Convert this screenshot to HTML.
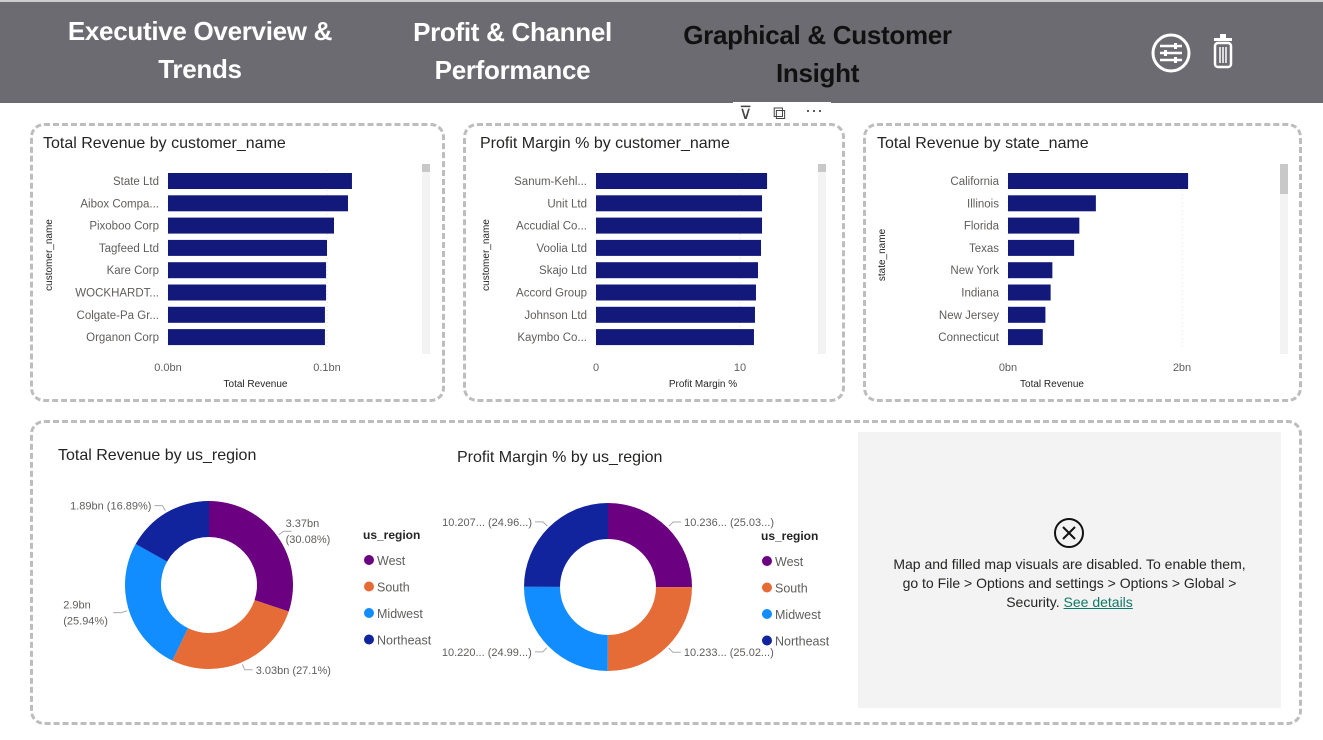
<!DOCTYPE html>
<html><head><meta charset="utf-8">
<style>
body{margin:0;width:1323px;height:740px;overflow:hidden;background:#fff;font-family:"Liberation Sans",sans-serif;position:relative}
.hdr{position:absolute;left:0;top:0;width:1323px;height:103px;background:#6c6b71;border-top:2px solid #ccc;box-sizing:border-box}
.nav{position:absolute;color:#fff;font-weight:bold;font-size:26px;text-align:center;line-height:38px;letter-spacing:-0.3px}
.card{position:absolute;border:3px dashed #bdbdbd;border-radius:14px;box-sizing:border-box}
svg text{font-family:"Liberation Sans",sans-serif}
</style></head><body>
<div class="hdr"></div>
<div class="nav" style="left:50px;top:12px;width:300px">Executive Overview &amp;<br>Trends</div>
<div class="nav" style="left:390px;top:13px;width:245px">Profit &amp; Channel<br>Performance</div>
<div class="nav" style="left:665px;top:16px;width:305px;color:#111">Graphical &amp; Customer<br>Insight</div>
<svg style="position:absolute;left:1150px;top:32px" width="95" height="42">
<g><circle cx="21" cy="21" r="18" fill="none" stroke="#fff" stroke-width="3"/><path d="M10 14h22M10 21h22M10 28h22" stroke="#fff" stroke-width="2.5"/><rect x="24" y="11" width="3" height="6" fill="#fff"/><rect x="14" y="18" width="3" height="6" fill="#fff"/><rect x="24" y="25" width="3" height="6" fill="#fff"/></g>
<g><rect x="64" y="6" width="18" height="3" fill="#fff"/><rect x="70" y="2" width="6" height="4" fill="#fff"/><rect x="65" y="11" width="16" height="24" rx="3" fill="none" stroke="#fff" stroke-width="2.5"/><path d="M70 15v16M73 15v16M76 15v16" stroke="#fff" stroke-width="1.5"/></g>
</svg>
<div style="position:absolute;left:733px;top:102px;width:98px;height:26px;background:#fff;font-size:18px;color:#444"><span style="position:absolute;left:6px;top:1px">⊽</span><span style="position:absolute;left:40px;top:1px">⧉</span><span style="position:absolute;left:72px;top:-2px">···</span></div>

<div class="card" style="left:30px;top:123px;width:415px;height:279px"></div>
<div class="card" style="left:463px;top:123px;width:382px;height:279px"></div>
<div class="card" style="left:863px;top:123px;width:439px;height:279px"></div>
<div class="card" style="left:30px;top:420px;width:1272px;height:305px"></div>

<svg id="bars" style="position:absolute;left:0;top:0" width="1323" height="740"></svg>

<div style="position:absolute;left:858px;top:432px;width:423px;height:276px;background:#f3f3f3;font-size:14px;color:#252423;text-align:center">
<svg style="position:absolute;left:195px;top:85px" width="32" height="32"><circle cx="16" cy="16" r="14" fill="none" stroke="#111" stroke-width="2"/><path d="M10 10l12 12M22 10l-12 12" stroke="#111" stroke-width="2"/></svg>
<div style="position:absolute;left:28px;top:123px;width:367px;line-height:19px">Map and filled map visuals are disabled. To enable them, go to File &gt; Options and settings &gt; Options &gt; Global &gt; Security. <span style="color:#117865;text-decoration:underline">See details</span></div>
</div>

<script>
const c1Cats=["State Ltd","Aibox Compa...","Pixoboo Corp","Tagfeed Ltd","Kare Corp","WOCKHARDT...","Colgate-Pa Gr...","Organon Corp"];
const c1Vals=[0.1157,0.1132,0.1044,0.1000,0.0994,0.0994,0.0987,0.0987];
const c1Ticks=[0,0.1];const c1TickLabels=["0.0bn","0.1bn"];
const c2Cats=["Sanum-Kehl...","Unit Ltd","Accudial Co...","Voolia Ltd","Skajo Ltd","Accord Group","Johnson Ltd","Kaymbo Co..."];
const c2Vals=[11.88,11.53,11.53,11.46,11.25,11.11,11.04,10.97];
const c2Ticks=[0,10];const c2TickLabels=["0","10"];
const c3Cats=["California","Illinois","Florida","Texas","New York","Indiana","New Jersey","Connecticut"];
const c3Vals=[2.07,1.01,0.82,0.76,0.51,0.49,0.43,0.40];
const c3Ticks=[0,2];const c3TickLabels=["0bn","2bn"];
const regions=["West","South","Midwest","Northeast"];
const regionColors=["#6b0080","#e66c37","#118dff","#12239e"];
const revVals=[3.37,3.03,2.9,1.89];
const revLabels=[["3.37bn","(30.08%)"],["3.03bn (27.1%)"],["2.9bn","(25.94%)"],["1.89bn (16.89%)"]];
const marVals=[10.236,10.233,10.220,10.207];
const marLabels=[["10.236... (25.03...)"],["10.233... (25.02...)"],["10.220... (24.99...)"],["10.207... (24.96...)"]];

const NS="http://www.w3.org/2000/svg";const svg=document.getElementById('bars');
function mk(tag,attrs,parent){const e=document.createElementNS(NS,tag);for(const k in attrs)e.setAttribute(k,attrs[k]);(parent||svg).appendChild(e);return e;}
function txt(x,y,s,size,fill,anchor,parent){const e=mk('text',{x:x,y:y,'font-size':size,fill:fill,'text-anchor':anchor||'start'},parent);e.textContent=s;return e;}

function barChart(o){
  const g=mk('g',{});
  
  
  const t=txt(o.tx,148,o.title,16,'#252423','start',g);
  
  
  const sx=v=>o.x0+(v-o.ticks[0])/(o.ticks[1]-o.ticks[0])*(o.x1-o.x0);
  o.ticks.forEach((tv,i)=>{
    mk('line',{x1:sx(tv),x2:sx(tv),y1:170,y2:350,stroke:'#ddd','stroke-dasharray':'1,3'},g);
    const l=txt(sx(tv),371,o.tickLabels[i],11,'#605e5c','middle',g);
    
    
  });
  o.cats.forEach((c,i)=>{
    const yc=181+i*22.3;
    const r=mk('rect',{x:o.x0,y:yc-8,width:sx(o.vals[i])-o.x0,height:16,fill:'#12197a'},g);
    
    
    const l=txt(o.x0-9,yc+4,c,11.5,'#605e5c','end',g);
    
    
  });
  const xt=txt((o.x0+o.x1)/2+o.xtOff,387,o.xTitle,10,'#252423','middle',g);
  
  
  const yt=txt(0,0,o.yTitle,10,'#252423','middle',g);
  yt.setAttribute('transform','translate('+o.yx+',255) rotate(-90)');
  
  
  const sb=mk('rect',{x:o.sbx,y:164,width:8,height:190,fill:'#f3f3f3'},g);
  
  
  mk('rect',{x:o.sbx,y:164,width:8,height:o.sbh,fill:'#c8c8c8'},g);
}
barChart({name:'revenue-by-customer-chart',title:'Total Revenue by customer_name',tx:43,cats:c1Cats,vals:c1Vals,ticks:c1Ticks,tickLabels:c1TickLabels,x0:168,x1:327,xTitle:'Total Revenue',xtOff:8,yTitle:'customer_name',yx:52,sbx:422,sbh:8});
barChart({name:'margin-by-customer-chart',title:'Profit Margin % by customer_name',tx:480,cats:c2Cats,vals:c2Vals,ticks:c2Ticks,tickLabels:c2TickLabels,x0:596,x1:740,xTitle:'Profit Margin %',xtOff:35,yTitle:'customer_name',yx:489,sbx:818,sbh:8});
barChart({name:'revenue-by-state-chart',title:'Total Revenue by state_name',tx:877,cats:c3Cats,vals:c3Vals,ticks:c3Ticks,tickLabels:c3TickLabels,x0:1008,x1:1182,xTitle:'Total Revenue',xtOff:-43,yTitle:'state_name',yx:885,sbx:1280,sbh:30});

function donut(o){
  const g=mk('g',{});
  
  
  const t=txt(o.tx,o.ty,o.title,16,'#252423','start',g);
  
  
  const tot=o.vals.reduce((a,b)=>a+b,0);let a0=0;const R=84,r=48;
  o.vals.forEach((v,i)=>{
    const a1=a0+v/tot*Math.PI*2;
    const p=(a,rad)=>[o.cx+rad*Math.sin(a),o.cy-rad*Math.cos(a)];
    const [x1,y1]=p(a0,R),[x2,y2]=p(a1,R),[x3,y3]=p(a1,r),[x4,y4]=p(a0,r);
    const lg=(a1-a0)>Math.PI?1:0;
    const s=mk('path',{d:`M${x1} ${y1}A${R} ${R} 0 ${lg} 1 ${x2} ${y2}L${x3} ${y3}A${r} ${r} 0 ${lg} 0 ${x4} ${y4}Z`,fill:regionColors[i]},g);
    
    
    const am=(a0+a1)/2;const [lx,ly]=p(am,R+8);const [ex,ey]=p(am,R+2);
    const right=Math.sin(am)>0;
    mk('polyline',{points:`${ex},${ey} ${lx},${ly} ${lx+(right?8:-8)},${ly}`,fill:'none',stroke:'#aaa'},g);
    const lines=o.labels[i];
    let lb;
    if(lines.length===1){
      lb=txt(lx+(right?11:-11),ly+4,lines[0],11,'#605e5c',right?'start':'end',g);
    }else{
      const bx=right?lx+2:lx-58;
      lb=mk('text',{'font-size':11,fill:'#605e5c'},g);
      lines.forEach((ln,k)=>{const ts=mk('tspan',{x:bx,y:ly-4+k*16},lb);ts.textContent=ln;});
    }
    
    
    a0=a1;
  });
  const lt=txt(o.lx,o.ly,'us_region',12,'#252423','start',g);
  lt.setAttribute('font-weight','bold');
  
  
  regions.forEach((rg,i)=>{
    const e=mk('g',{},g);
    
    
    mk('circle',{cx:o.lx+6,cy:o.ly+21+i*26.5,r:5,fill:regionColors[i]},e);
    txt(o.lx+14,o.ly+26+i*26.5,rg,12.5,'#605e5c','start',e);
  });
}
donut({name:'revenue-by-region-donut',title:'Total Revenue by us_region',tx:58,ty:460,vals:revVals,labels:revLabels,cx:209,cy:585,lx:363,ly:539});
donut({name:'margin-by-region-donut',title:'Profit Margin % by us_region',tx:457,ty:462,vals:marVals,labels:marLabels,cx:608,cy:587,lx:761,ly:540});
</script>
</body></html>
